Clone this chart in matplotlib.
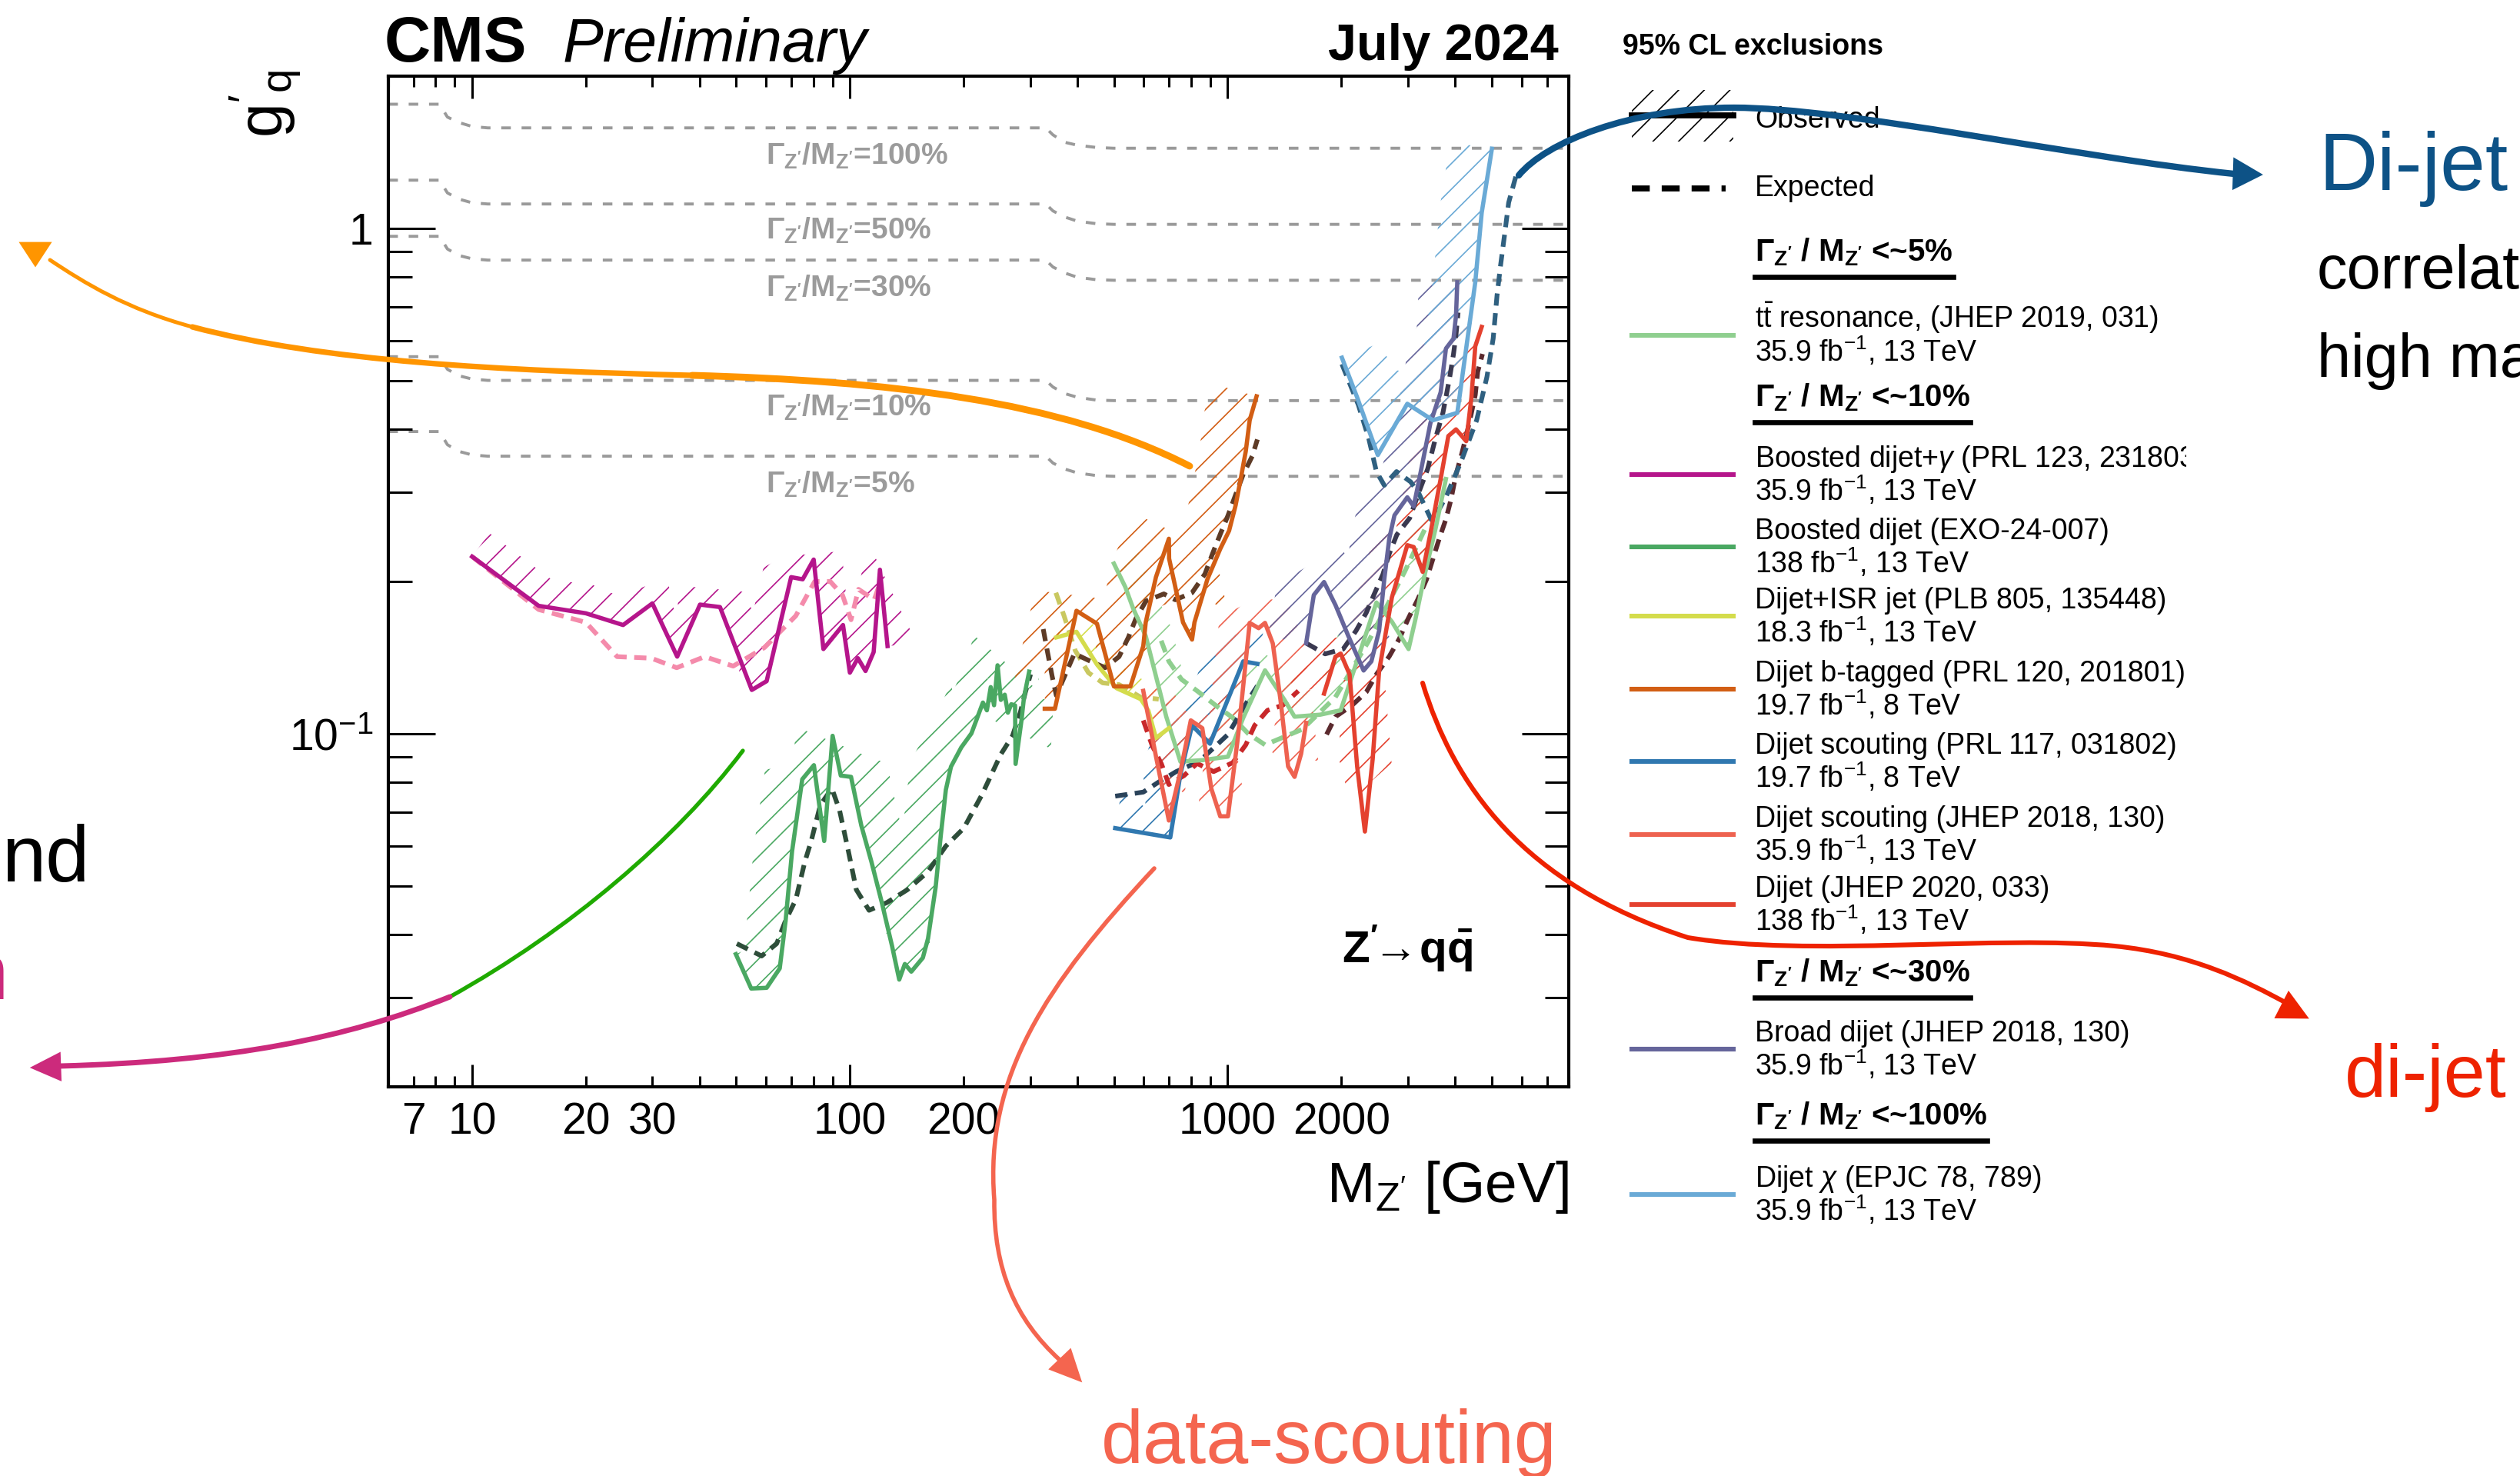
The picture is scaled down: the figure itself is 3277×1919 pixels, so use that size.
import numpy as np
import matplotlib
matplotlib.use('Agg')
import matplotlib.pyplot as plt
from matplotlib.path import Path
from matplotlib.patches import PathPatch, Polygon, Rectangle
from matplotlib.lines import Line2D
from matplotlib.transforms import Affine2D, Bbox
from matplotlib.ticker import FixedLocator, LogLocator, FuncFormatter, NullFormatter, FixedFormatter

plt.rcParams['font.family'] = ['Liberation Sans', 'DejaVu Sans']
plt.rcParams['mathtext.fontset'] = 'custom'
plt.rcParams['mathtext.rm'] = 'Liberation Sans'
plt.rcParams['mathtext.it'] = 'Liberation Sans:italic'
plt.rcParams['mathtext.bf'] = 'Liberation Sans:bold'
plt.rcParams['hatch.linewidth'] = 0.6

# ---- coupling lines for fixed Gamma/M ----
width_m = [6, 8.2, 8.6, 9.2, 10, 11, 330, 345, 370, 400, 450, 500, 8000]
width_g = {
    '100%': [1.76, 1.76, 1.66, 1.62, 1.59, 1.58, 1.58, 1.53, 1.48, 1.46, 1.445, 1.44, 1.44],
    '50%': [1.245, 1.245, 1.175, 1.143, 1.123, 1.117, 1.117, 1.082, 1.053, 1.033, 1.021, 1.018, 1.018],
    '30%': [0.964, 0.964, 0.91, 0.884, 0.87, 0.865, 0.865, 0.838, 0.816, 0.8, 0.791, 0.789, 0.789],
    '10%': [0.557, 0.557, 0.526, 0.511, 0.503, 0.50, 0.50, 0.485, 0.471, 0.463, 0.457, 0.456, 0.456],
    '5%': [0.396, 0.396, 0.373, 0.362, 0.356, 0.354, 0.354, 0.343, 0.334, 0.328, 0.324, 0.323, 0.323],
}
width_label_g = {'100%': 1.34, '50%': 0.951, '30%': 0.731, '10%': 0.425, '5%': 0.30}

# ---- analyses: observed / expected limits ----
tt_obs_m = [500, 536, 562, 607, 688, 750, 857, 1002, 1100, 1256, 1413, 1504, 1758, 1992, 2477, 2722, 3013, 3137, 3338, 3554, 3784]
tt_obs_g = [0.217, 0.195, 0.177, 0.156, 0.108, 0.088, 0.0886, 0.090, 0.1075, 0.1334, 0.1167, 0.108, 0.109, 0.1112, 0.1817, 0.1665, 0.147, 0.1675, 0.209, 0.255, 0.319]
tt_exp_m = [667, 699, 755, 830, 940, 1032, 1134, 1256, 1577, 1928, 2363, 2941, 3338]
tt_exp_g = [0.1527, 0.139, 0.128, 0.1215, 0.113, 0.1075, 0.100, 0.095, 0.102, 0.118, 0.1525, 0.209, 0.255]

bdg_obs_m = [10, 15, 20, 25.1, 30, 34.9, 40.1, 45.3, 55, 60.2, 69.9, 75, 80.2, 85.1, 95.9, 100, 105, 110, 115.6, 120.1, 125.8]
bdg_obs_g = [0.224, 0.179, 0.173, 0.164, 0.181, 0.142, 0.180, 0.178, 0.122, 0.127, 0.204, 0.202, 0.221, 0.147, 0.164, 0.132, 0.141, 0.133, 0.145, 0.211, 0.149]
bdg_exp_m = [10, 15, 20, 24.2, 29.8, 34.8, 41.3, 49.1, 59.4, 71.9, 80.7, 88.7, 95.6, 100.7, 105.4, 116, 120.5]
bdg_exp_g = [0.224, 0.176, 0.166, 0.142, 0.141, 0.135, 0.142, 0.136, 0.148, 0.171, 0.200, 0.200, 0.188, 0.168, 0.193, 0.184, 0.200]

bd_obs_m = [49.9, 54.8, 60.2, 65.2, 67.6, 70.3, 74.8, 80.3, 85.5, 90, 94.6, 100.7, 107.2, 114, 121.5, 129.3, 135.1, 139.8, 145.4, 156, 161,
            168.7, 174, 179.5, 185.2, 197.2, 209.8, 225, 230.5, 236, 240.8, 246, 251, 257, 262, 267.4, 273.7, 274.6, 284.6, 289, 298.3]
bd_obs_g = [0.0366, 0.0313, 0.0314, 0.0343, 0.0427, 0.0585, 0.0812, 0.0866, 0.0613, 0.0990, 0.0826, 0.0821, 0.0658, 0.0558, 0.0463, 0.0380,
            0.0326, 0.0350, 0.0338, 0.0360, 0.0393, 0.0497, 0.0628, 0.0774, 0.0860, 0.0939, 0.1001, 0.1152, 0.1112, 0.1236, 0.1138, 0.1365,
            0.1166, 0.1194, 0.110, 0.1143, 0.1137, 0.0871, 0.1062, 0.1179, 0.1326]
bd_exp_m = [50.2, 58.4, 64, 67.6, 71.9, 76, 79, 83.5, 89.6, 93.9, 99.1, 104, 112.4, 125.3, 142, 161, 179.5, 200.3, 223.5, 251, 269.5, 282.5, 291.5, 300.8]
bd_exp_g = [0.0384, 0.0363, 0.0384, 0.0427, 0.0469, 0.0558, 0.0613, 0.0722, 0.0779, 0.0705, 0.0585, 0.0491, 0.0447, 0.0463, 0.0491, 0.0533,
            0.0599, 0.065, 0.0756, 0.091, 0.099, 0.110, 0.1208, 0.131]

isr_obs_m = [352, 398, 451, 508, 589, 617, 646, 699]
isr_obs_g = [0.155, 0.159, 0.137, 0.123, 0.117, 0.111, 0.098, 0.1025]
isr_exp_m = [351, 369, 395, 428, 467, 516, 589, 657]
isr_exp_g = [0.19, 0.171, 0.146, 0.132, 0.126, 0.125, 0.118, 0.117]

bt_obs_m = [328, 349, 398, 451, 500, 553, 598, 607, 646, 699, 700, 762, 805, 817, 884, 956, 1009, 1050, 1083, 1117, 1144, 1193]
bt_obs_g = [0.112, 0.112, 0.175, 0.165, 0.124, 0.124, 0.149, 0.166, 0.204, 0.243, 0.222, 0.166, 0.1535, 0.166, 0.202, 0.232, 0.252, 0.283, 0.319, 0.362, 0.417, 0.465]
bt_exp_m = [325, 333, 343, 352, 372, 393, 425, 474, 516, 546, 572, 608, 678, 727, 805, 871, 912, 956, 1002, 1050, 1100, 1162, 1199]
bt_exp_g = [0.161, 0.146, 0.130, 0.119, 0.131, 0.144, 0.140, 0.135, 0.142, 0.155, 0.169, 0.183, 0.189, 0.184, 0.190, 0.207, 0.227, 0.248, 0.270, 0.297, 0.326, 0.354, 0.382]

s8_obs_m = [504, 705, 750, 805, 898, 1100, 1199]
s8_obs_g = [0.065, 0.0623, 0.0831, 0.1038, 0.0955, 0.139, 0.1374]
s8_exp_m = [504, 598, 657, 731, 841, 1002, 1134, 1199]
s8_exp_g = [0.0752, 0.0766, 0.0802, 0.0841, 0.0881, 0.0996, 0.1166, 0.1243]

s13_obs_m = [598, 646, 699, 750, 799, 857, 905, 956, 1002, 1066, 1144, 1208, 1256, 1317, 1380, 1446, 1504, 1565, 1614]
s13_obs_g = [0.1215, 0.0902, 0.0673, 0.0841, 0.1062, 0.1025, 0.0779, 0.0686, 0.0686, 0.099, 0.1656, 0.1617, 0.1656, 0.1508, 0.1167, 0.0861, 0.0821, 0.0912, 0.105]
s13_exp_m = [598, 632, 668, 699, 767, 830, 918, 1032, 1117, 1179, 1275, 1400, 1539]
s13_exp_g = [0.1062, 0.0945, 0.0871, 0.0793, 0.0826, 0.0873, 0.0841, 0.0876, 0.095, 0.1038, 0.1112, 0.1138, 0.1215]

dj_obs_m = [1800, 1930, 1992, 2103, 2203, 2309, 2421, 2518, 2722, 2990, 3109, 3284, 3443, 3607, 3664, 3840, 4024, 4283, 4420, 4525, 4706]
dj_obs_g = [0.120, 0.142, 0.144, 0.131, 0.086, 0.064, 0.089, 0.133, 0.186, 0.236, 0.234, 0.209, 0.249, 0.300, 0.319, 0.388, 0.400, 0.379, 0.4625, 0.584, 0.638]
dj_exp_m = [1828, 1930, 2136, 2328, 2477, 2679, 2851, 3013, 3182, 3361, 3495, 3634, 3784, 3900, 4024, 4151, 4283, 4420, 4525, 4592, 4728]
dj_exp_g = [0.0996, 0.108, 0.1138, 0.1208, 0.131, 0.1422, 0.1543, 0.1694, 0.1838, 0.2018, 0.2216, 0.2433, 0.2657, 0.290, 0.326, 0.354, 0.388, 0.431, 0.468, 0.52, 0.564]

br_obs_m = [1614, 1691, 1800, 1930, 2087, 2291, 2402, 2518, 2598, 2679, 2765, 2990, 3109, 3206, 3443, 3664, 3784, 3963, 4024, 4055]
br_obs_g = [0.151, 0.188, 0.1995, 0.1796, 0.156, 0.1333, 0.139, 0.1598, 0.2018, 0.2433, 0.2704, 0.2935, 0.2817, 0.315, 0.4117, 0.4735, 0.578, 0.605, 0.672, 0.782]
br_exp_m = [1614, 1812, 2022, 2188, 2328, 2438, 2576, 2679, 2806, 3034, 3228, 3384, 3550, 3715, 3863, 3963, 4024, 4075]
br_exp_g = [0.151, 0.1438, 0.147, 0.1598, 0.1734, 0.188, 0.2065, 0.227, 0.2476, 0.267, 0.304, 0.3337, 0.3838, 0.4313, 0.502, 0.564, 0.616, 0.681]

chi_obs_m = [2007, 2203, 2498, 2990, 3495, 4056, 4525, 4706, 5008]
chi_obs_g = [0.5545, 0.4625, 0.3558, 0.4495, 0.417, 0.4313, 0.782, 1.073, 1.437]
chi_exp_m = [2007, 2219, 2363, 2477, 2598, 2800, 3050, 3200, 3290, 3460, 3650, 3784, 3963, 4151, 4563, 4858, 5047, 5168, 5284, 5416, 5546, 5765, 5856]
chi_exp_g = [0.5385, 0.447, 0.384, 0.33, 0.31, 0.33, 0.315, 0.30, 0.287, 0.265, 0.28, 0.294, 0.3186, 0.3455, 0.417, 0.508, 0.605, 0.738, 0.849, 0.977, 1.124, 1.249, 1.30]

# legend labels
leg_labels = [
    ('t$\\bar{\\mathrm{t}}$ resonance, (JHEP 2019, 031)', '35.9 fb$^{-1}$, 13 TeV'),
    ('Boosted dijet+$\\gamma$ (PRL 123, 231803)', '35.9 fb$^{-1}$, 13 TeV'),
    ('Boosted dijet (EXO-24-007)', '138 fb$^{-1}$, 13 TeV'),
    ('Dijet+ISR jet (PLB 805, 135448)', '18.3 fb$^{-1}$, 13 TeV'),
    ('Dijet b-tagged (PRL 120, 201801)', '19.7 fb$^{-1}$, 8 TeV'),
    ('Dijet scouting (PRL 117, 031802)', '19.7 fb$^{-1}$, 8 TeV'),
    ('Dijet scouting (JHEP 2018, 130)', '35.9 fb$^{-1}$, 13 TeV'),
    ('Dijet (JHEP 2020, 033)', '138 fb$^{-1}$, 13 TeV'),
    ('Broad dijet (JHEP 2018, 130)', '35.9 fb$^{-1}$, 13 TeV'),
    ('Dijet $\\chi$ (EPJC 78, 789)', '35.9 fb$^{-1}$, 13 TeV'),
]
headers = ['5%', '10%', '30%', '100%']

W, H = 3277, 1919
fig = plt.figure(figsize=(W / 200, H / 200), dpi=200)
pix = Affine2D().scale(1 / W, -1 / H).translate(0, 1) + fig.transFigure
ax = fig.add_axes([505 / W, 1 - 1413 / H, 1535 / W, 1314 / H])
ax.set_xscale('log')
ax.set_yscale('log')
ax.set_xlim(6, 8000)
ax.set_ylim(0.02, 2)


def hatch_band(m, g, width, color):
    # hatched strip on the excluded side of the curve, like ROOT does
    pts = ax.transData.transform(np.column_stack([m, g]))
    d = np.gradient(pts, axis=0)
    nrm = np.column_stack([-d[:, 1], d[:, 0]])
    nrm /= np.hypot(nrm[:, 0], nrm[:, 1])[:, None]
    poly = np.vstack([pts, (pts + width * nrm)[::-1]])
    dat = ax.transData.inverted().transform(poly)
    ax.add_patch(Polygon(dat, closed=True, facecolor='none', edgecolor=color,
                         hatch='//', lw=0, zorder=2))


# width lines
for key, gv in width_g.items():
    ax.plot(width_m, gv, color='#9a9a9a', lw=1.4, dashes=(3.2, 3.6), zorder=1)
    ax.text(60, width_label_g[key], r"$\mathbf{\Gamma_{Z'}/M_{Z'}}$=" + key, color='#9b9b9b',
            fontsize=14, fontweight='bold', ha='left', va='baseline', zorder=1)

analyses = [
    (tt_obs_m, tt_obs_g, tt_exp_m, tt_exp_g, '#8fcf8f', '#8fcf8f', 35),
    (bdg_obs_m, bdg_obs_g, bdg_exp_m, bdg_exp_g, '#b5158b', '#f48bab', 38),
    (bd_obs_m, bd_obs_g, bd_exp_m, bd_exp_g, '#4aa862', '#2e4d3a', 50),
    (isr_obs_m, isr_obs_g, isr_exp_m, isr_exp_g, '#d4dc4c', '#c9c860', 25),
    (bt_obs_m, bt_obs_g, bt_exp_m, bt_exp_g, '#d25e14', '#5e3b26', 60),
    (s8_obs_m, s8_obs_g, s8_exp_m, s8_exp_g, '#3078b0', '#2b435a', 50),
    (s13_obs_m, s13_obs_g, s13_exp_m, s13_exp_g, '#ee6250', '#c8282a', 40),
    (dj_obs_m, dj_obs_g, dj_exp_m, dj_exp_g, '#e4412f', '#5b2a2e', 45),
    (br_obs_m, br_obs_g, br_exp_m, br_exp_g, '#65659b', '#3a3950', 50),
    (chi_obs_m, chi_obs_g, chi_exp_m, chi_exp_g, '#6aaad6', '#2f6080', 55),
]
for om, og, em, eg, c, ce, hw in analyses:
    hatch_band(om, og, hw, c)
for om, og, em, eg, c, ce, hw in analyses:
    ax.plot(em, eg, color=ce, lw=2.2, dashes=(2.6, 1.6), zorder=3)
    ax.plot(om, og, color=c, lw=2.0, zorder=4)

ax.text(0.808, 0.123, r"$\mathbf{Z'\!\!\rightarrow\!q\bar{q}}$", transform=ax.transAxes, fontsize=21,
        ha='left', va='baseline')

# axes styling
ax.xaxis.set_major_locator(FixedLocator([10, 100, 1000]))
ax.xaxis.set_major_formatter(FixedFormatter(['10', '100', '1000']))
ax.xaxis.set_minor_locator(LogLocator(base=10, subs=np.arange(2, 10)))
shown = [7, 20, 30, 200, 2000]
ax.xaxis.set_minor_formatter(FuncFormatter(
    lambda v, p: ('%d' % round(v)) if any(np.isclose(v, s) for s in shown) else ''))
ax.yaxis.set_major_locator(FixedLocator([0.1, 1]))
ax.yaxis.set_major_formatter(FixedFormatter(['$10^{-1}$', '1']))
ax.yaxis.set_minor_locator(LogLocator(base=10, subs=np.arange(2, 10)))
ax.yaxis.set_minor_formatter(NullFormatter())
ax.tick_params(which='both', direction='in', top=True, right=True, width=1.1, labelsize=20.5)
ax.tick_params(axis='x', which='major', length=10.5, pad=7)
ax.tick_params(axis='x', which='minor', length=5, pad=7)
ax.tick_params(axis='y', which='major', length=22, pad=7)
ax.tick_params(axis='y', which='minor', length=11)
for s in ax.spines.values():
    s.set_linewidth(1.5)


def ftext(x, y, s, **kw):
    kw.setdefault('va', 'baseline')
    kw.setdefault('ha', 'left')
    return fig.text(x, y, s, transform=pix, **kw)


ftext(2040, 1563, r"M$_{\mathrm{Z'}}$ [GeV]", fontsize=27, ha='right')
ftext(345, 90, r"$\mathrm{g}'_{\mathrm{q}}$", fontsize=29, rotation=90, ha='center', va='top')
ftext(500, 80, 'CMS', fontsize=30, fontweight='bold')
ftext(732, 80, 'Preliminary', fontsize=28.5, style='italic')
ftext(2027, 78, 'July 2024', fontsize=24, fontweight='bold', ha='right')

# legend
ftext(2110, 71, '95% CL exclusions', fontsize=13.5, fontweight='bold')
fig.add_artist(Rectangle((2122, 117), 132, 67, transform=pix, facecolor='none', edgecolor='black',
                         hatch='//', lw=0))
fig.add_artist(Line2D([2122, 2254], [150, 150], transform=pix, color='black', lw=2.8))
ftext(2282, 166, 'Observed', fontsize=13.5)
fig.add_artist(Line2D([2122, 2244], [245, 245], transform=pix, color='black', lw=2.8, dashes=(3, 2)))
ftext(2282, 255, 'Expected', fontsize=13.5)

header_y = [339, 528, 1276, 1462]
entry_y = [426, 607, 701, 791, 886, 980, 1075, 1166, 1354, 1543]
fig.canvas.draw()
for hy, hl in zip(header_y, headers):
    t = ftext(2282, hy, r"$\mathbf{\Gamma_{Z'}}$ / M$_{\mathbf{Z'}}$ <~" + hl, fontsize=14.5, fontweight='bold')
    bb = t.get_window_extent(fig.canvas.get_renderer())
    fig.add_artist(Line2D([2282, 2282 + bb.width], [hy + 21, hy + 21], transform=pix, color='black', lw=2.4))
for (l1, l2), ey, an in zip(leg_labels, entry_y, analyses):
    fig.add_artist(Line2D([2122, 2254], [ey + 10, ey + 10], transform=pix, color=an[4], lw=2.2))
    t1 = ftext(2282, ey, l1, fontsize=13.5)
    t1.set_clip_box(Bbox([[0, 0], [2843, H]]))
    t1.set_clip_on(True)
    ftext(2282, ey + 44, l2, fontsize=13.5)


# slide annotations on top
def curve(verts, color, lw):
    codes = [Path.MOVETO] + [Path.CURVE4] * (len(verts) - 1)
    fig.add_artist(PathPatch(Path(verts, codes), transform=pix, fill=False, ec=color, lw=lw,
                             capstyle='round', zorder=20))


def head(tip, frm, length, half, color):
    tip = np.array(tip, float)
    d = tip - np.array(frm, float)
    d /= np.hypot(*d)
    p = np.array([-d[1], d[0]])
    base = tip - length * d
    fig.add_artist(Polygon([tip, base + half * p, base - half * p], closed=True, transform=pix,
                           fc=color, ec=color, lw=1, zorder=20))


blue = '#0d5286'
curve([(1975, 228), (2010, 185), (2120, 140), (2255, 140),
       (2400, 140), (2700, 205), (2905, 226)], blue, 3.0)
head((2940, 227), (2880, 225), 35, 19, blue)

orange = '#ff9500'
curve([(1547, 606), (1380, 520), (1150, 495), (900, 488)], orange, 3.2)
curve([(900, 488), (650, 482), (420, 470), (250, 425)], orange, 2.6)
curve([(250, 425), (165, 402), (110, 368), (65, 338)], orange, 1.8)
head((46, 345), (46, 300), 29, 19, orange)

curve([(966, 976), (880, 1090), (740, 1210), (585, 1296)], '#1faa00', 1.9)
pink = '#cc2a7c'
curve([(585, 1296), (450, 1350), (300, 1380), (78, 1386)], pink, 2.5)
head((42, 1388), (100, 1386), 36, 17, pink)

salmon = '#f4654f'
curve([(1501, 1129), (1360, 1280), (1280, 1400), (1293, 1560),
       (1292, 1650), (1320, 1715), (1378, 1768)], salmon, 2.0)
head((1405, 1795), (1348, 1735), 38, 18, salmon)

red = '#ee2200'
curve([(1850, 888), (1890, 1020), (1980, 1150), (2195, 1219),
       (2350, 1245), (2600, 1215), (2750, 1230),
       (2850, 1240), (2920, 1275), (2975, 1305)], red, 2.2)
head((3000, 1323), (2920, 1282), 36, 18, red)

ftext(3015, 247, 'Di-jet', fontsize=38, color=blue)
ftext(3013, 375, 'correlat', fontsize=28.5, color='black')
ftext(3013, 490, 'high ma', fontsize=28.5, color='black')
ftext(3049, 1426, 'di-jet', fontsize=35, color=red)
ftext(1432, 1902, 'data-scouting', fontsize=35.5, color=salmon)
ftext(2, 1146, 'nd', fontsize=37, color='black')
ftext(10, 1299, 'n', fontsize=37, color=pink, ha='right')

fig.savefig('out.png', dpi=200)
